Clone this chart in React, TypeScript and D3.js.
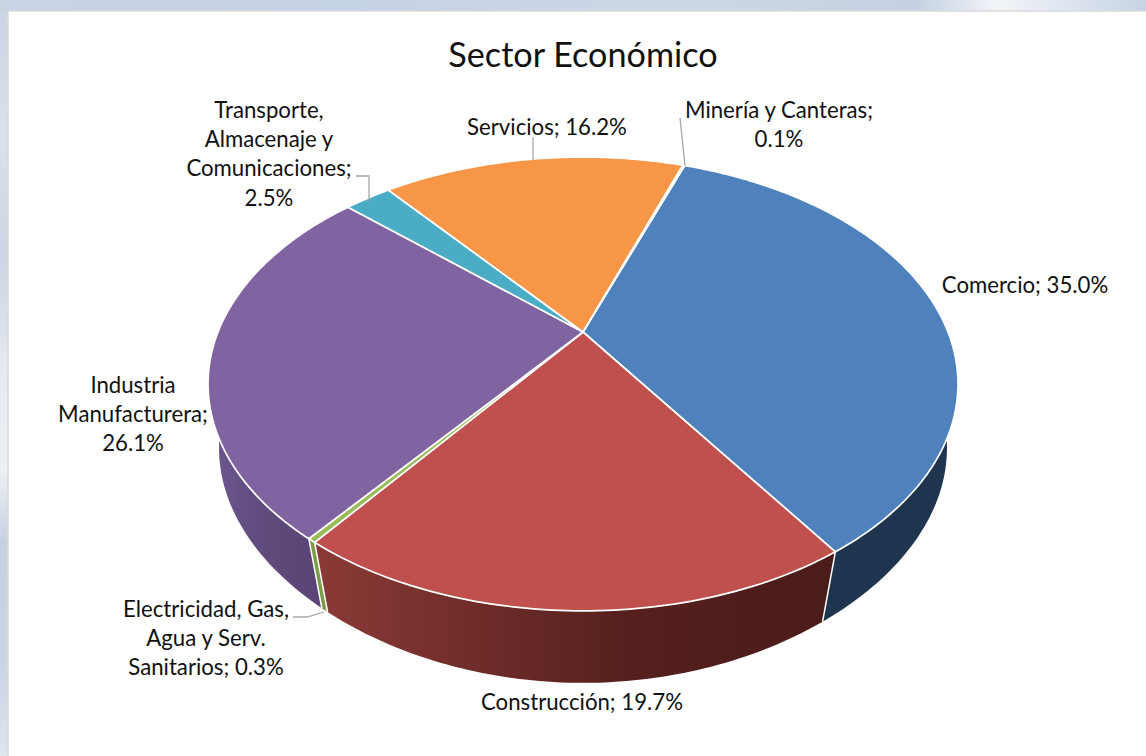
import React, { useEffect, useRef } from 'react';
import * as d3 from 'd3';

// values, clockwise from the top of the pie
const sectors = ['Comercio', 'Construcción', 'Electricidad, Gas, Agua y Serv. Sanitarios', 'Industria Manufacturera', 'Transporte, Almacenaje y Comunicaciones', 'Servicios', 'Minería y Canteras'];
const shares = [35.0, 19.7, 0.3, 26.1, 2.5, 16.2, 0.1];
const labelLines = [
  ['Comercio; 35.0%'],
  ['Construcción; 19.7%'],
  ['Electricidad, Gas,', 'Agua y Serv.', 'Sanitarios; 0.3%'],
  ['Industria', 'Manufacturera;', '26.1%'],
  ['Transporte,', 'Almacenaje y', 'Comunicaciones;', '2.5%'],
  ['Servicios; 16.2%'],
  ['Minería y Canteras;', '0.1%'],
];
const title = 'Sector Económico';

// styles and layout, same order as sectors
const topColors = ['#4f81bd', '#c0504d', '#9bbb59', '#8064a2', '#4bacc6', '#f79646', '#9db4cf'];
const sideColors = ['#1f344e', 'url(#sideRed)', '#7d9c48', 'url(#sidePurple)', '#2f6f80', '#a8601f', '#2c4d75'];
const labelPos = [[1025, 293], [582, 710], [206, 617], [133, 393], [269, 118], [547, 135], [779, 118]];
const leaders = [
  [[293, 617], [307, 617], [324, 612]],
  [[356, 176], [369, 176], [369, 201]],
  [[533, 137], [533, 160]],
  [[680, 118], [685, 166]],
];

const App: React.FC = () => {
  const svgRef = useRef<SVGSVGElement>(null);

  useEffect(() => {
    const svg = d3.select(svgRef.current);
    svg.selectAll('*').remove();

    const defs = svg.append('defs');
    const gradient = (id: string, x1: number, y1: number, x2: number, y2: number, stops: [number, string][]) => {
      const g = defs.append('linearGradient').attr('id', id)
        .attr('gradientUnits', 'userSpaceOnUse')
        .attr('x1', x1).attr('y1', y1).attr('x2', x2).attr('y2', y2);
      stops.forEach(([o, c]) => g.append('stop').attr('offset', o).attr('stop-color', c));
    };
    gradient('sideRed', 314, 0, 835, 0, [[0, '#8b3a36'], [0.6, '#55201e'], [1, '#4a1c1a']]);
    gradient('sidePurple', 210, 0, 325, 0, [[0, '#6b5690'], [0.5, '#5f4a7c'], [1, '#584374']]);
    gradient('bgTop', 0, 0, 1146, 0, [[0, '#c9d3e4'], [0.3, '#c6d2e6'], [0.6, '#ccd6e6'], [0.8, '#c5d1e2'], [0.87, '#f2f4f8'], [0.93, '#dfe6f0'], [1, '#c6d2e4']]);
    gradient('bgLeft', 0, 0, 0, 756, [[0, '#c9d3e4'], [0.18, '#dbe1ec'], [0.34, '#ccd5e4'], [0.5, '#e6eaf2'], [0.62, '#eef0f4'], [0.72, '#c5d0e2'], [0.88, '#c9d4e5'], [1, '#dfe5ef']]);

    // blurred slide behind the chart
    svg.append('rect').attr('width', 1146).attr('height', 756).attr('fill', 'url(#bgLeft)');
    svg.append('rect').attr('width', 1146).attr('height', 11).attr('fill', 'url(#bgTop)');
    svg.append('rect').attr('x', 8).attr('y', 11).attr('width', 1140).attr('height', 747)
      .attr('fill', '#fff').attr('stroke', '#d9d9d9').attr('stroke-width', 1.5);

    // perspective of the pie: unit circle -> screen
    const cx = 583, cy = 332, R = 365;
    const a = 215, c = -0.229;
    // top rim ellipse, and the ellipse of the lower rim
    const rim = { cy: 384, rx: 375, ry: 227 };
    const lowRim = { cy: 448, rx: 364, ry: 235, pinch: 0.04 };
    const top = (phi: number, r = 1): [number, number] => {
      const t = -Math.cos(phi) * r;
      const w = 1 + c * t;
      return [cx + R * Math.sin(phi) * r / w, cy + a * t / w];
    };
    const bottom = (phi: number): [number, number] => {
      const [x, y] = top(phi);
      const v = (y - rim.cy) / rim.ry;
      const squeeze = v > 0 ? 1 - lowRim.pinch * v * v : 1;
      return [cx + (x - cx) / rim.rx * lowRim.rx * squeeze, lowRim.cy + v * lowRim.ry];
    };

    const start = (19.8 * Math.PI) / 180;
    const pie = d3.pie<number>().sort(null).startAngle(start).endAngle(start + 2 * Math.PI);
    const arcs = pie(shares);
    const samples = (d: d3.PieArcDatum<number>) => {
      const n = Math.max(2, Math.ceil((d.endAngle - d.startAngle) * 60));
      return d3.range(n + 1).map(i => d.startAngle + (d.endAngle - d.startAngle) * i / n);
    };
    const line = d3.line();

    // sides first, the top faces cover the far part
    const g = svg.append('g');
    arcs.forEach((d, i) => {
      const phis = samples(d);
      g.append('path')
        .attr('d', line([...phis.map(p => top(p)), ...phis.slice().reverse().map(p => bottom(p))]) + 'Z')
        .attr('fill', sideColors[i]);
    });

    // white edges on the near side
    arcs.forEach(d => {
      const near = Math.cos(d.endAngle) < 0.15 && Math.sin(d.endAngle) !== 0;
      if (!near) return;
      g.append('line')
        .attr('x1', top(d.endAngle)[0]).attr('y1', top(d.endAngle)[1])
        .attr('x2', bottom(d.endAngle)[0]).attr('y2', bottom(d.endAngle)[1])
        .attr('stroke', '#fff').attr('stroke-width', 1.5);
    });

    arcs.forEach((d, i) => {
      const pts = samples(d).map(p => top(p));
      g.append('path')
        .attr('d', line([[cx, cy], ...pts]) + 'Z')
        .attr('fill', topColors[i])
        .attr('stroke', '#fff')
        .attr('stroke-width', 1.7)
        .attr('stroke-linejoin', 'round');
    });

    // leader lines
    leaders.forEach(pts => {
      svg.append('path').attr('d', line(pts as [number, number][]))
        .attr('fill', 'none').attr('stroke', '#a6a6a6').attr('stroke-width', 1.3);
    });

    // labels
    const font = 'Lato, sans-serif';
    labelLines.forEach((lines, i) => {
      const t = svg.append('text')
        .attr('text-anchor', 'middle')
        .attr('font-family', font)
        .attr('font-size', 22.2)
        .attr('fill', '#111');
      lines.forEach((s, j) => {
        t.append('tspan').attr('x', labelPos[i][0]).attr('y', labelPos[i][1] + j * 29.2).text(s);
      });
      t.append('title').text(sectors[i]);
    });

    svg.append('text')
      .attr('x', 583).attr('y', 67)
      .attr('text-anchor', 'middle')
      .attr('font-family', font)
      .attr('font-size', 34.2)
      .attr('fill', '#111')
      .text(title);
  }, []);

  return <svg ref={svgRef} width={1146} height={756} style={{ position: 'absolute', left: 0, top: 0, display: 'block' }} />;
};

export default App;
